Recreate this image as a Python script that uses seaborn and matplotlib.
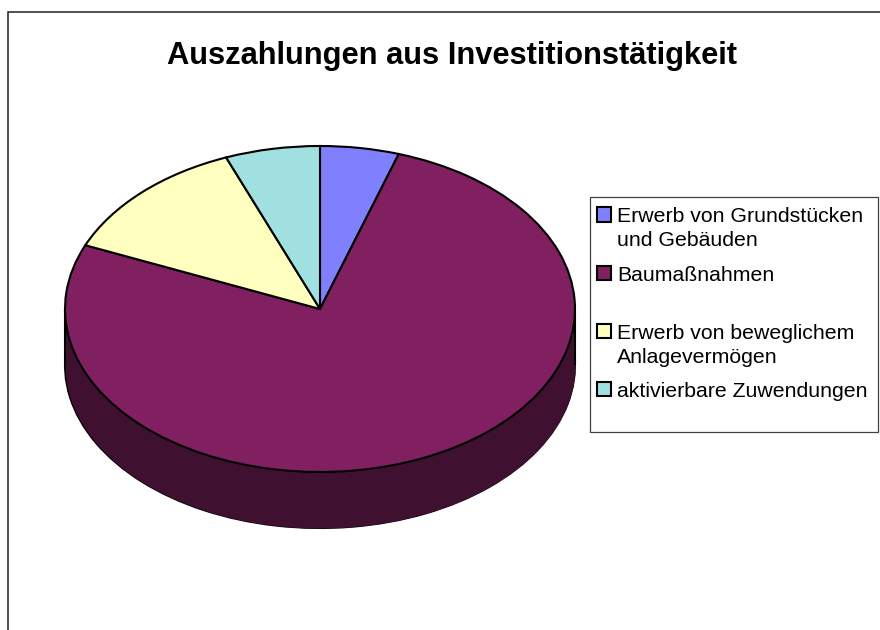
import numpy as np
import matplotlib
matplotlib.use("Agg")
import matplotlib.pyplot as plt
import seaborn as sns
from matplotlib.patches import Rectangle, Wedge
from matplotlib.legend_handler import HandlerPatch

title = "Auszahlungen aus Investitionstätigkeit"
categories = ["Erwerb von Grundstücken\nund Gebäuden", "Baumaßnahmen\n ",
              "Erwerb von beweglichem\nAnlagevermögen", "aktivierbare Zuwendungen\n "]
shares = [5.0, 76.4, 12.6, 6.0]
slice_colors = ["#8080FF", "#802060", "#FFFFC0", "#A0E0E0"]
side_color = "#401030"

W, H = 880, 630
sns.set_theme(style="white")
plt.rcParams["font.family"] = ["Liberation Sans", "DejaVu Sans"]
palette = sns.color_palette(slice_colors)

fig = plt.figure(figsize=(W / 100, H / 100), dpi=100, facecolor="white")
fig.add_artist(Rectangle((8 / W, -0.1), 1.2, 1.1 - 12 / H, transform=fig.transFigure,
                         fill=False, ec="#202020", lw=1.1))
fig.text(452 / W, 1 - 56 / H, title, ha="center", va="center",
         fontsize=22.2, fontweight="bold", color="black")

# axes spanning the pie including its rim
L, R, T, B = 65, 575, 146, 528
ax = fig.add_axes([L / W, 1 - B / H, (R - L) / W, (B - T) / H])
depth = (B - 472) / ((472 - T) / 2)
edge = dict(edgecolor="black", linewidth=1.5)

ax.pie(shares, colors=[side_color] * 4, center=(0, -depth), startangle=90,
       counterclock=False, wedgeprops=edge, normalize=True)
xs = np.linspace(-1, 1, 721)
ax.fill_between(xs, -np.sqrt(1 - xs**2), -np.sqrt(1 - xs**2) - depth,
                color=side_color, lw=0, zorder=1.5)
ax.vlines([-1, 1], -depth, 0, color="black", lw=1.5, zorder=1.6, clip_on=False)
wedges, _ = ax.pie(shares, colors=palette, startangle=90, counterclock=False,
                   wedgeprops=edge, normalize=True)
for w in wedges:
    w.set_zorder(2)
ax.set_aspect("auto")
ax.set_xlim(-1, 1)
ax.set_ylim(-1 - depth, 1)
ax.axis("off")
for p in ax.patches:
    p.set_clip_on(False)

# legend box drawn at its own place, entries inside it
fig.add_artist(Rectangle((590 / W, 1 - 432 / H), 288 / W, 235 / H, transform=fig.transFigure,
                         fc="white", ec="#404040", lw=0.9))


def square(legend, orig_handle, xdescent, ydescent, width, height, fontsize):
    return Rectangle((0, height / 2 + 0.36 * fontsize), width, width)


leg = fig.legend(wedges, categories, loc="upper left",
                 bbox_to_anchor=(597 / W, 1 - 207.5 / H),
                 bbox_transform=fig.transFigure, borderaxespad=0, borderpad=0,
                 fontsize=15.35, frameon=False,
                 handlelength=0.66, handleheight=0.66, handletextpad=0.28,
                 labelspacing=0.72,
                 handler_map={Wedge: HandlerPatch(patch_func=square)})
leg.set_zorder(5)
for t in leg.get_texts():
    t.set_color("black")
    t.set_linespacing(1.32)
for h in leg.legend_handles:
    h.set_linewidth(1.5)
    h.set_edgecolor("black")

fig.savefig("out.png", dpi=100, facecolor="white")
